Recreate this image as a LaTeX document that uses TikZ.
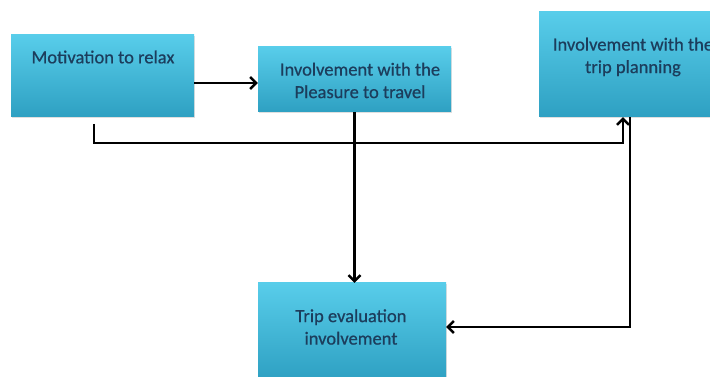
\documentclass[tikz,border=0pt]{standalone}
\usepackage{fontspec}
\setmainfont{Carlito}
\newfontfamily\boxfont{Carlito}[RawFeature={embolden=0.6}]
\usetikzlibrary{arrows.meta,shadows}
\definecolor{boxtop}{HTML}{58CDEA}
\definecolor{boxbot}{HTML}{2EA0C2}
\definecolor{txtcol}{HTML}{1C3D5C}
\tikzset{
  boxnode/.style={rectangle, inner sep=0pt, top color=boxtop, bottom color=boxbot, draw=none,
    drop shadow={opacity=0.25, shadow xshift=1.2pt, shadow yshift=-1.2pt}},
  txtnode/.style={font=\boxfont\fontsize{18.5}{22.5}\selectfont, text=txtcol, align=center, inner sep=0pt},
  conn/.style={line width=2.6pt, draw=black, -{Straight Barb[length=6pt,width=12pt,line width=2.4pt]}}
}
\begin{document}
\begin{tikzpicture}[x=1pt,y=1pt]
\useasboundingbox (0,0) rectangle (710,377);
\fill[white] (0,0) rectangle (710,377);
\clip (0,0) rectangle (710,377);
% boxes
\node[boxnode, minimum width=183pt, minimum height=82pt] (m) at (102.5,301) {};
\node[boxnode, minimum width=193pt, minimum height=65pt] (p) at (354.5,297.5) {};
\node[boxnode, minimum width=188pt, minimum height=105pt] (t) at (633,312.5) {};
\node[boxnode, minimum width=188pt, minimum height=97pt] (e) at (352,45.5) {};
% texts
\node[txtnode] (mt) at (103,320) {Motivation to relax};
\node[txtnode] (pt) at (360,296.5) {Involvement with the\\Pleasure to travel};
\node[txtnode] (tt) at (633,320) {Involvement with the\\trip planning};
\node[txtnode] (et) at (351,50) {Trip evaluation\\involvement};
% helper coordinates
\coordinate (a) at (0,294);
\coordinate (s1) at (94,253);
\coordinate (h) at (0,234);
\coordinate (x1) at (623,0);
\coordinate (x2) at (630,0);
\coordinate (h2) at (0,50);
% connectors
\draw[conn] (m.east |- a) -- (p.west |- a);
\draw[conn] (s1) -- (s1 |- h) -- (x1 |- h) -- (x1 |- t.south);
\draw[conn] (p.south) -- (p.south |- e.north);
\draw[conn] (x2 |- t.south) -- (x2 |- h2) -- (e.east |- h2);
\end{tikzpicture}
\end{document}
